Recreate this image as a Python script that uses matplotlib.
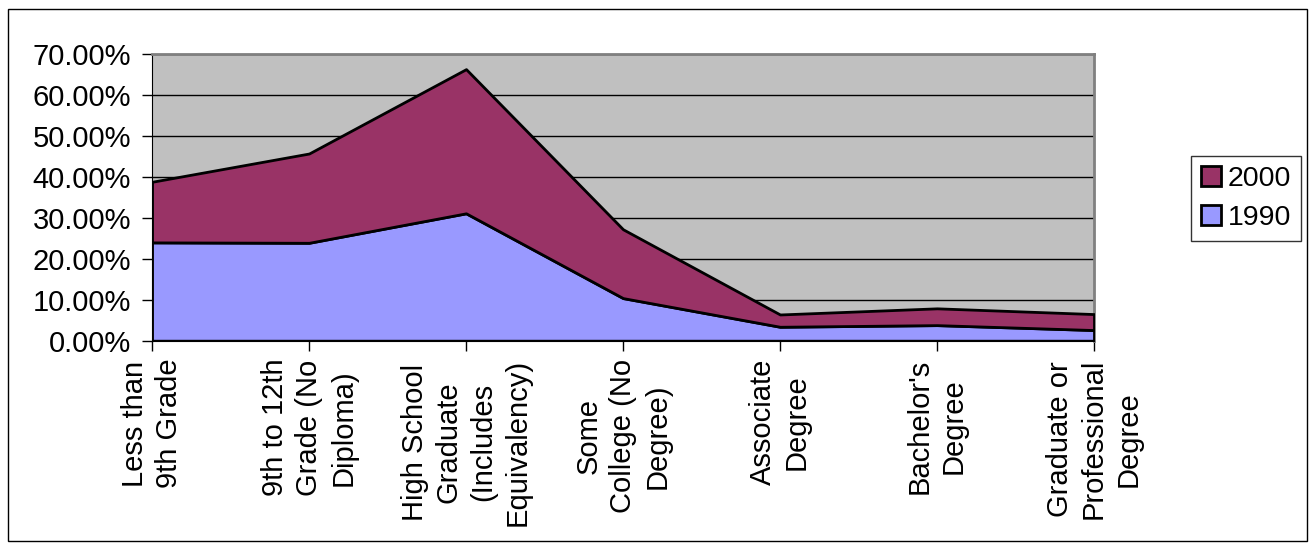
import matplotlib.pyplot as plt
from matplotlib.patches import Rectangle
from matplotlib.ticker import PercentFormatter

categories = [
    "Less than\n9th Grade",
    "9th to 12th\nGrade (No\nDiploma)",
    "High School\nGraduate\n(Includes\nEquivalency)",
    "Some\nCollege (No\nDegree)",
    "Associate\nDegree",
    "Bachelor's\nDegree",
    "Graduate or\nProfessional\nDegree",
]
pct_1990 = [24.0, 23.9, 31.1, 10.4, 3.4, 3.8, 2.6]
pct_2000 = [14.8, 21.8, 35.2, 16.8, 3.0, 4.1, 3.9]

plt.rcParams['font.family'] = ['Liberation Sans', 'DejaVu Sans']

fig = plt.figure(figsize=(13.13, 5.48), dpi=100)
ax = fig.add_axes([0.1158, 0.3783, 0.7174, 0.5232])
ax.set_facecolor('#C0C0C0')

x = list(range(len(categories)))
ax.stackplot(x, pct_1990, pct_2000,
             colors=['#9999FF', '#993366'],
             edgecolor='black', linewidth=2,
             labels=['1990', '2000'], zorder=3)

ax.set_xlim(0, len(categories) - 1)
ax.set_ylim(0, 70)
ax.set_yticks(range(0, 71, 10))
ax.yaxis.set_major_formatter(PercentFormatter(decimals=2))
ax.yaxis.grid(True, color='black', linewidth=1)
ax.set_axisbelow(True)

ax.set_xticks(x)
ax.set_xticklabels(categories, rotation=90, ha='center', va='top',
                   multialignment='center', linespacing=1.28)
ax.tick_params(axis='both', direction='out', length=7, width=1,
               color='black', labelsize=21, pad=6)
ax.tick_params(axis='y', pad=8)

for side in ['top', 'right']:
    ax.spines[side].set_color('#808080')
    ax.spines[side].set_linewidth(2)
ax.spines['left'].set_color('black')
ax.spines['bottom'].set_color('black')

handles, labels = ax.get_legend_handles_labels()
leg = fig.legend(handles[::-1], labels[::-1], loc='upper left',
                 bbox_to_anchor=(1191 / 1313, 1 - 156 / 548),
                 fontsize=20.5, frameon=True, fancybox=False,
                 edgecolor='black', handlelength=0.7, handleheight=0.7,
                 handletextpad=0.25, borderpad=0.35, labelspacing=0.45,
                 borderaxespad=0)
leg.get_frame().set_linewidth(1)

fig.patches.append(Rectangle((8 / 1313, 7 / 548), 1299 / 1313, 532 / 548,
                             transform=fig.transFigure, fill=False,
                             edgecolor='black', linewidth=1))

fig.savefig('out.png', dpi=100)
plt.close(fig)
